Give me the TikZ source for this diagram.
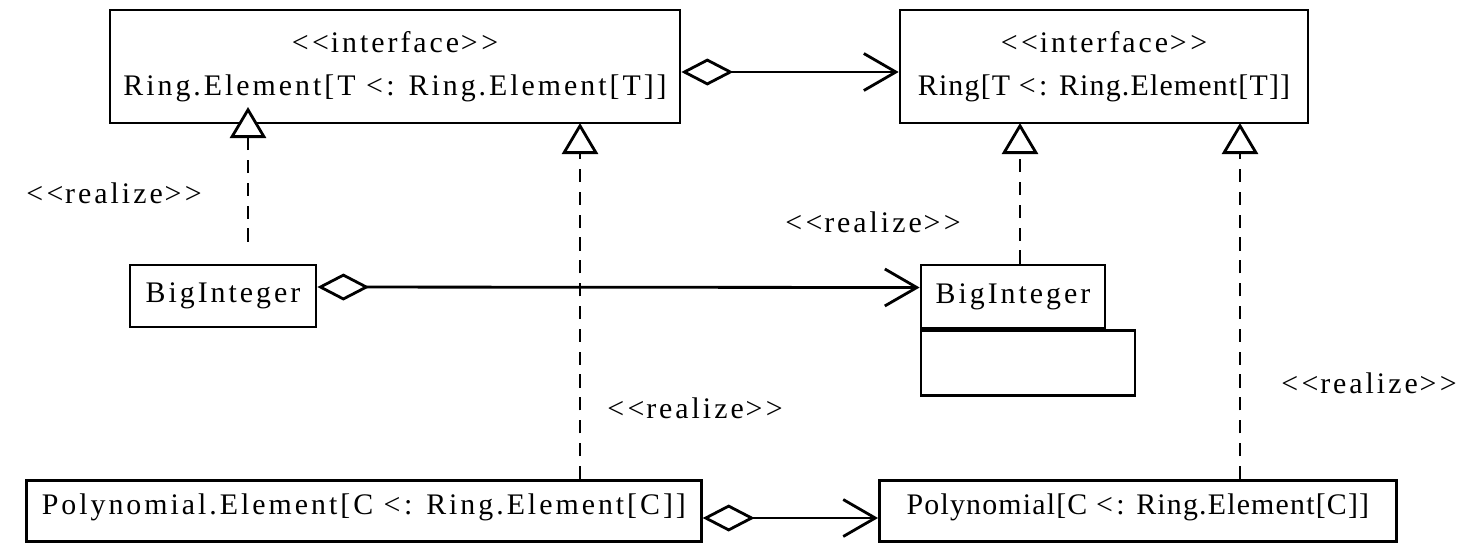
\documentclass[tikz,border=0pt]{standalone}
\usepackage{fontspec}
\usetikzlibrary{arrows.meta,calc}
\newfontfamily\umlfont{Liberation Serif}[LetterSpace=10]
\newfontfamily\umlnarrow{Liberation Serif}[LetterSpace=4]
\newcommand\stereo[1]{<\kern2pt<\kern1pt#1\kern1pt>\kern2pt>}
\newcommand\subt{<\kern2pt:}

\begin{document}
\begin{tikzpicture}[x=0.02cm,y=-0.02cm,
every node/.style={font=\umlfont\fontsize{17}{24.4}\selectfont},
umlbox/.style={draw,line width=1.6pt,inner sep=0pt,align=center},
realize/.style={line width=1.6pt,dash pattern=on 7.5pt off 5.5pt,
  -{Triangle[open,fill=white,length=0.62cm,width=0.72cm]}},
agg/.style={line width=1.6pt,
  {Diamond[open,fill=white,length=1.04cm,width=0.54cm]}-{Straight Barb[length=0.64cm,width=0.74cm]}}]
\useasboundingbox (0,0) rectangle (1473,542);
\clip (0,0) rectangle (1473,542);
\node[umlbox,minimum width=11.4cm,minimum height=2.26cm] (ringelem) at (395,66.5)
  {\stereo{interface}\\Ring.Element[T \subt{} Ring.Element[T]]};
\node[umlbox,minimum width=8.16cm,minimum height=2.26cm] (ring) at (1104,66.5)
  {\stereo{interface}\\{\umlnarrow Ring[T \subt{} Ring.Element[T]]}};
\node[umlbox,minimum width=3.72cm,minimum height=1.24cm] (bigA) at (223,296) {BigInteger};
\node[umlbox,minimum width=3.68cm,minimum height=1.26cm] (bigB) at (1013,296.5) {BigInteger};
\node[umlbox,minimum width=4.28cm,minimum height=1.3cm,anchor=north west] (bigBops) at (bigB.south west) {};
\node[umlbox,anchor=north west,minimum width=13.5cm,inner ysep=0.18cm,text height=0.5cm,text depth=0.36cm]
  (polyElem) at (25,479) {Polynomial.Element[C \subt{} Ring.Element[C]]};
\node[umlbox,anchor=north west,minimum width=10.34cm,inner ysep=0.18cm,text height=0.5cm,text depth=0.36cm]
  (poly) at (878,479) {\umlnarrow Polynomial[C \subt{} Ring.Element[C]]};
\coordinate (r1) at (248,107);
\coordinate (r2) at (580,123);
\coordinate (r3) at (1020,123);
\coordinate (r4) at (1240,123);
\draw[realize] ($(bigA.north -| r1)+(0,-22)$) -- (r1);
\draw[realize] (polyElem.north -| r2) -- (r2);
\draw[realize] (bigB.north -| r3) -- (r3);
\draw[realize] (poly.north -| r4) -- (r4);
\draw[agg] ([yshift=-0.11cm]ringelem.east) -- ([yshift=-0.11cm]ring.west);
\draw[agg] ([yshift=0.18cm]bigA.east) -- ([yshift=0.18cm]bigB.west);
\draw[agg] ($(polyElem.north east)+(0,39)$) -- ($(poly.north west)+(0,39)$);
\node (lbl1) at (114,193) {\stereo{realize}};
\node (lbl2) at (873,222) {\stereo{realize}};
\node (lbl3) at (695,408) {\stereo{realize}};
\node (lbl4) at (1369,383) {\stereo{realize}};
\end{tikzpicture}
\end{document}
